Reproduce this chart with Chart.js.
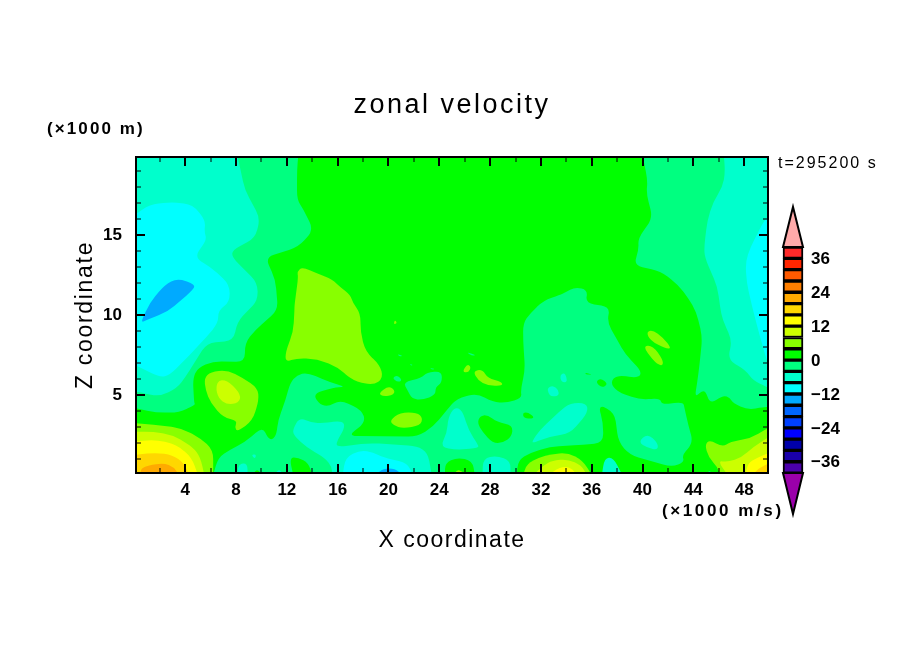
<!DOCTYPE html>
<html>
<head>
<meta charset="utf-8">
<style>
  body { margin: 0; background: #fff; }
  #main { position: absolute; left: 0; top: 0; }
  #bar { position: absolute; left: 770px; top: 200px; }
</style>
<script src="https://cdn.jsdelivr.net/npm/chart.js@4"></script>
</head>
<body>
<canvas id="main" width="904" height="654"></canvas>
<canvas id="bar" width="80" height="325"></canvas>
<script>
// contour level band -> colour, from lowest to highest (each band is 4 wide)
const levelEdges = [-40,-36,-32,-28,-24,-20,-16,-12,-8,-4,0,4,8,12,16,20,24,28,32,36,40];
const levelColors = ["#4b00aa","#1a00aa","#0000aa","#0000ff","#0040ff","#0066ff","#00aaff","#00ffff","#00ffcc","#00ff80",
                     "#00ff00","#88ff00","#ccff00","#ffff00","#ffd700","#ffaa00","#ff7f00","#ff5a00","#ff2600","#ff2a2a"];
const tipColors = ["#9a00aa","#ffaaaa"];

const xTicks = [2,4,6,8,10,12,14,16,18,20,22,24,26,28,30,32,34,36,38,40,42,44,46,48];
const xLabels = [4,8,12,16,20,24,28,32,36,40,44,48];
const yTicks = [1,2,3,4,5,6,7,8,9,10,11,12,13,14,15,16,17,18,19];
const yLabels = [5,10,15];
const barLabels = [36,24,12,0,-12,-24,-36];

// contour outlines in data units: x(km/1000), z(km/1000), x, z ...
const base = [0,0, 50,0, 50,20, 0,20];
const m4Left = [0,20, 12.9,20, 12.8,19.06, 12.8,17.2, 13.3,16.6, 14.1,15.3, 12.9,14.25, 10.3,13.6, 11.1,12.2, 11.3,10.3, 9.5,9.06, 8.7,8.25, 8.7,7.06, 6.2,7.1, 5,6.7, 4.6,6.06, 4.7,4.5, 4.8,4.4, 3.5,3.9, 1.7,3.9, 0,4.2];
const m8Left = [0,20, 8.1,20, 8.7,17.8, 9.9,16.06, 9.5,14.8, 7.7,14.06, 7.7,13.6, 9.7,12, 9.7,10.9, 8.95,10.3, 8.1,9.56, 7.8,8.4, 5.7,8.25, 4,6.1, 3.35,5.44, 2,4.9, 0.2,5.2, 0,5.2];
const m12Left = [0,16.25, 1.2,16.9, 3,17.06, 4.6,16.9, 5.6,15.9, 5.5,15.2, 5.7,14.7, 4.7,13.6, 6,13, 7.5,11.9, 7.5,10.8, 6.6,10.3, 6.6,9.5, 5.6,8.56, 4.1,7.3, 2.8,6.25, 2,6.1, 0,6.9];
const m16Left = [0.6,9.7, 1.2,10.75, 2.4,11.9, 3.4,12.3, 4.8,11.9, 4.6,11.56, 2.6,10.2, 1,9.7, 0.6,9.56];
const m4Right = [40,20, 40.4,18.4, 40.3,17.6, 40.8,16.06, 39.65,14.8, 39.7,14.06, 39.3,13.1, 41.4,12.75, 42.8,11.9, 44,10.6, 44.4,9.7, 44.7,8.6, 44.5,7, 44.3,5.75, 44.1,4.8, 44.9,5.44, 45.3,4.4, 46.35,5, 46.9,4.8, 47.1,4.5, 48.3,4.06, 49.5,4.25, 50,4.25, 50,20];
const m8Right = [46.4,20, 46.5,18.9, 46.3,18, 45.55,17.06, 45.1,15.9, 44.85,14.25, 44.9,13.6, 45.9,11.75, 46.1,10.5, 46.3,9.7, 47.05,8.4, 46.7,7.2, 48.1,6.56, 48.7,5.9, 49.8,5.5, 50,5.4, 50,20];
const m12Right = [50,16.25, 49.5,15.8, 49,15, 48.5,14.25, 48.1,13.3, 48.2,12, 48.6,10.6, 49.1,9.06, 49.8,7.1, 50,7.06];
const m4Main = [6.2,0, 6.6,1.1, 7.5,1.56, 8.7,2.06, 10.1,3, 10.5,2.3, 10.9,2.2, 11.2,2.6, 11.3,3.4, 11.9,4.7, 12.25,5.75, 12.8,6.25, 13.6,6.4, 15.4,5.8, 16.6,5.5, 15.95,5.5, 14.1,5.1, 14.45,4.5, 15.2,4.25, 16.2,4.7, 17.9,4.06, 18.2,3.3, 16.8,2.44, 22.25,2.4, 23.5,3, 24.6,4.06, 25.4,4.8, 27,5.1, 28.2,4.56, 29.3,4.5, 30.5,4.8, 30.4,5.3, 30.75,6.56, 30.6,8.4, 30.6,9.5, 31.15,10.1, 32.2,10.9, 33.5,11.25, 33.9,11.4, 34.7,11.75, 35.7,11.56, 35.5,10.75, 37.45,10.5, 37.2,9.56, 38.1,8.3, 38.6,7.6, 39.95,6.44, 39.65,6.06, 38,6.25, 37.45,5.8, 38,5.2, 39.8,4.7, 41.4,4.8, 41.5,4.4, 43.2,4.56, 43.3,4.2, 43.6,3.1, 44,2, 43.1,1.25, 43.3,0.8, 42.3,0.5, 39,1.25, 38.1,2.06, 37.8,3.9, 36.5,4.44, 36.9,3.25, 36.9,2, 35.3,1.9, 32.7,1.75, 31.15,1.4, 30.2,0.9, 30.1,0];
const m4Lake = [21.15,5.8, 22.6,6.06, 23,6.4, 24.2,6.5, 24.2,5.75, 23.7,5.5, 23.7,5, 22.7,4.7, 21.85,4.75, 21.5,5.3];
const m4SpeckA = [26.1,7.7, 26.9,7.5, 26.6,7.44];
const m4SpeckB = [20.7,7.56, 21.15,7.44, 20.85,7.4];
const m4SpeckC = [21.7,6.95, 21.95,6.85, 21.7,6.85];
const m4SpeckD = [23.3,6.7, 23.7,6.6, 23.3,6.6];
const m4SpeckE = [20.3,6.06, 20.7,6.25, 21.1,5.9, 20.7,5.8];
const greenA = [27,3.25, 27.2,3.7, 27.8,3.75, 28.55,3.3, 29.8,3.1, 29.7,2.4, 29,2, 28.2,2, 27.4,2.7];
const greenB = [24.45,0, 24.45,0.75, 25.4,1.1, 26.6,0.9, 26.8,0];
const greenC = [30.6,3.9, 31,3.9, 31.5,3.6, 31.15,3.5, 30.6,3.6];
const greenD = [12.2,1.1, 12.9,1.1, 13.7,0.75, 14,0, 12.5,0];
const greenE = [9.3,0, 9.65,0.4, 10.05,0];
const greenF = [36.3,5.8, 36.7,6.06, 37.3,5.7, 36.8,5.44];
const greenG = [35.5,6.4, 36.1,6.25, 35.5,6.3];
const m8Low = [12.5,2.9, 13,3.6, 14,3.25, 14.85,3.25, 16.35,3.4, 16.6,3, 15.9,2.06, 15.95,1.75, 18.55,2, 22.25,1.8, 23.1,1.4, 23.4,0, 15.55,0, 15.55,0.5, 15,1.06, 13.6,1.7, 12.5,2.5];
const m12Low = [16.4,0, 16.6,1.1, 17.8,1.56, 18.8,1.4, 19.6,1.1, 21.5,0.75, 21.9,0];
const m16Low = [18.95,0, 19.6,0.4, 20.5,0.4, 21.1,0];
const m8Peak = [24.05,1.75, 24.6,2.6, 24.7,3.6, 25.2,4.25, 25.8,4.06, 26.3,2.8, 27.05,1.9, 27.1,1.7, 25.4,1.56];
const m8Bottom = [27.4,0, 27.45,1.06, 28.55,1.2, 29.6,0.9, 29.6,0];
const m8Mid = [31.3,2.1, 31.9,2.8, 33.5,4, 34.3,4.5, 35.6,4.5, 35.7,3.9, 34.3,2.6, 32.7,2.4, 31.4,2];
const m8SmallA = [39.65,2.06, 40.4,2.6, 41.2,2, 41.2,1.56, 40.4,1.7];
const m8SmallB = [32.5,5.44, 32.95,5.6, 33.4,5.3, 33.4,4.94, 32.8,4.9, 32.6,5.1];
const m8SmallC = [33.5,6.25, 33.9,6.4, 34.1,5.8, 33.6,5.8];
const m8SmallD = [36.8,0, 37,1.06, 37.7,1.1, 38.4,0];
const m8SmallE = [44.9,0, 45.3,0.3, 45.5,0];
const m8SmallF = [8.1,0, 8.2,0.7, 8.9,0.75, 8.9,0];
const m8SmallG = [11,0, 11.4,0.4, 11.7,0];
const m8SmallH = [9.2,1.25, 9.6,1.3, 9.5,1];
const p4Lobe = [13.2,13, 14.4,12.6, 15.6,12.2, 16.2,11.75, 17,11.25, 17.2,10.75, 17.8,10.1, 17.8,8.9, 18.2,7.7, 19.3,6.9, 19.6,6.06, 18.8,5.6, 17.2,5.9, 15.95,6.75, 14.4,7.25, 12.8,7.3, 11.9,7.06, 11.9,7.7, 12.5,8.94, 12.6,10.3, 12.6,10.6, 12.9,12.4, 12.8,12.7];
const p4Blob = [5.5,6.06, 6,6.44, 7.3,6.56, 8.55,6.06, 9.7,5.44, 9.8,4.7, 9.3,3.4, 8.1,2.7, 7.9,3, 8.1,3.4, 7,3.6, 6,4.5, 5.6,5.3];
const p8Blob = [6.4,5.5, 6.7,6, 7.5,5.8, 8.4,5, 8.2,4.5, 7.3,4.4, 6.6,4.8];
const p4SmallA = [20.5,9.7, 20.7,9.5, 20.4,9.4];
const p4SmallB = [19.2,5.1, 20,5.56, 20.5,5.3, 20.4,5, 19.6,4.9];
const p4SmallC = [20.1,3.4, 20.9,3.9, 22.25,3.9, 22.7,3.56, 22.5,3.1, 21.15,2.9, 20.4,3.1];
const p4SmallD = [25.8,6.44, 26.2,6.94, 26.5,6.75, 26.3,6.4];
const p4SmallE = [26.65,6.5, 27.4,6.6, 27.8,6.06, 28.95,5.8, 28.95,5.56, 27.8,5.6, 27.05,5.9];
const p4SmallF = [40.3,8.94, 40.8,9.06, 41.6,8.6, 42.3,7.9, 41.8,7.9, 40.6,8.4];
const p4SmallG = [40,8.06, 40.8,8.1, 41.6,7.2, 41.6,6.8, 41,7];
const p4SmallH = [25.1,0, 25.5,0.4, 26.1,0];
const p4Corner = [0,3.25, 2.2,3.1, 3.8,2.9, 5.2,2.3, 6.2,1.56, 6.2,0, 0,0];
const p8Corner = [0,2.7, 1.5,2.7, 3,2.5, 4.6,1.75, 5.2,1.1, 5.5,0, 0,0];
const p12Corner = [0,2.1, 1.7,2.2, 3.3,1.9, 4.5,1.1, 5,0, 0,0];
const p16Corner = [0,1.25, 1.7,1.4, 3,1.25, 3.9,0.75, 4.3,0, 0,0];
const p20Corner = [0.5,0, 0.5,0.4, 1.1,0.6, 2.3,0.75, 3.1,0.5, 3.5,0];
const p4Hump = [30.6,0, 30.9,0.7, 31.9,1.1, 32.8,1.3, 34.1,1.4, 35.3,0.9, 36,0];
const p8Hump = [31.4,0, 32.2,0.6, 32.9,0.9, 34.1,1, 35.2,0.6, 35.6,0];
const p12Hump = [32.6,0, 33.5,0.5, 34.3,0.5, 34.85,0];
const p4Right = [44.9,1.9, 45.3,2.2, 46.3,1.75, 46.9,2.06, 48.5,2.3, 50,3, 50,0, 46.1,0, 45.9,0.5, 45.2,1.1];
const p8Right = [45.9,0.9, 46.7,0.8, 47.8,1.1, 48.7,1.75, 50,2.4, 50,0, 46.7,0];
const p12Right = [48.1,0, 48.3,0.75, 49,1.06, 50,1.4, 50,0];
const p16Right = [48.7,0, 49.1,0.4, 50,0.75, 50,0];

// painted in this order, later ones on top. second item is the lower edge of the band
const regions = [
  [base,0],
  [m4Left,-4],[m4Right,-4],[m4Main,-4],[m4Lake,-4],[m4SpeckA,-4],[m4SpeckB,-4],[m4SpeckC,-4],[m4SpeckD,-4],[m4SpeckE,-4],
  [greenA,0],[greenB,0],[greenC,0],[greenD,0],[greenE,0],[greenF,0],[greenG,0],
  [m8Left,-8],[m8Right,-8],[m8Low,-8],[m8Peak,-8],[m8Bottom,-8],[m8Mid,-8],
  [m8SmallA,-8],[m8SmallB,-8],[m8SmallC,-8],[m8SmallD,-8],[m8SmallE,-8],[m8SmallF,-8],[m8SmallG,-8],[m8SmallH,-8],
  [m12Left,-12],[m12Right,-12],[m12Low,-12],[m16Left,-16],[m16Low,-16],
  [p4Lobe,4],[p4Blob,4],[p8Blob,8],[p4SmallA,4],[p4SmallB,4],[p4SmallC,4],[p4SmallD,4],[p4SmallE,4],[p4SmallF,4],[p4SmallG,4],[p4SmallH,4],
  [p4Corner,4],[p8Corner,8],[p12Corner,12],[p16Corner,16],[p20Corner,20],
  [p4Hump,4],[p8Hump,8],[p12Hump,12],
  [p4Right,4],[p8Right,8],[p12Right,12],[p16Right,16]
];

function toPoints(flat) {
  var pts = [];
  for (var i = 0; i < flat.length; i += 2) pts.push({x: flat[i], y: flat[i + 1]});
  return pts;
}

function bandColor(low) {
  return levelColors[levelEdges.indexOf(low)];
}

// rounds the corners of an outline, but leaves points outside the plot sharp
function tracePath(ctx, pts, area) {
  var n = pts.length, cut = 9;
  function toward(p, q) {
    var d = Math.hypot(q.x - p.x, q.y - p.y) || 1, f = Math.min(0.5, cut / d);
    return {x: p.x + (q.x - p.x) * f, y: p.y + (q.y - p.y) * f};
  }
  pts.forEach(function(p, i) {
    var outside = !area || p.x < area.left || p.x > area.right || p.y < area.top || p.y > area.bottom;
    var a = toward(p, pts[(i + n - 1) % n]), b = toward(p, pts[(i + 1) % n]);
    if (outside) {
      if (i == 0) ctx.moveTo(p.x, p.y); else ctx.lineTo(p.x, p.y);
    } else {
      if (i == 0) ctx.moveTo(a.x, a.y); else ctx.lineTo(a.x, a.y);
      ctx.quadraticCurveTo(p.x, p.y, b.x, b.y);
    }
  });
  ctx.closePath();
}

// filled outlines: the points come out of the chart's own scales
const polygonFill = {
  id: 'polygonFill',
  beforeDatasetDraw(chart, args) {
    var ds = chart.data.datasets[args.index];
    if (!ds.polygon) return;
    var ctx = chart.ctx, a = chart.chartArea;
    ctx.save();
    ctx.beginPath();
    if (ds.clipArea) {
      ctx.rect(a.left, a.top, a.right - a.left, a.bottom - a.top);
      ctx.clip();
      ctx.beginPath();
    }
    tracePath(ctx, args.meta.data, ds.clipArea ? a : null);
    ctx.fillStyle = ds.backgroundColor;
    ctx.fill();
    if (ds.outline) {
      ctx.lineWidth = ds.outline;
      ctx.strokeStyle = '#000';
      ctx.stroke();
    }
    ctx.restore();
  }
};

// frame and inward ticks on all four sides
const frameTicks = {
  id: 'frameTicks',
  afterDatasetsDraw(chart) {
    var ctx = chart.ctx, a = chart.chartArea, sx = chart.scales.x, sy = chart.scales.y;
    ctx.save();
    ctx.strokeStyle = '#000';
    ctx.lineWidth = 2;
    ctx.strokeRect(a.left, a.top, a.right - a.left, a.bottom - a.top);
    xTicks.forEach(function(v) {
      var px = Math.round(sx.getPixelForValue(v)), major = xLabels.indexOf(v) >= 0;
      var len = major ? 9 : 5;
      ctx.lineWidth = major ? 2 : 1;
      ctx.beginPath();
      ctx.moveTo(px, a.top); ctx.lineTo(px, a.top + len);
      ctx.moveTo(px, a.bottom); ctx.lineTo(px, a.bottom - len);
      ctx.stroke();
    });
    yTicks.forEach(function(v) {
      var py = Math.round(sy.getPixelForValue(v)), major = yLabels.indexOf(v) >= 0;
      var len = major ? 9 : 5;
      ctx.lineWidth = major ? 2 : 1;
      ctx.beginPath();
      ctx.moveTo(a.left, py); ctx.lineTo(a.left + len, py);
      ctx.moveTo(a.right, py); ctx.lineTo(a.right - len, py);
      ctx.stroke();
    });
    ctx.restore();
  }
};

// titles need letter spacing, so they go through here
const textLabels = [
  {text: 'zonal velocity', x: 452, y: 113, font: '27px "Liberation Sans"', gap: 2.5, align: 'center'},
  {text: 'X coordinate', x: 452, y: 547, font: '23px "Liberation Sans"', gap: 1.5, align: 'center'},
  {text: 'Z coordinate', x: 92, y: 315, font: '23px "Liberation Sans"', gap: 1.7, align: 'center', rotate: true},
  {text: '(×1000 m)', x: 47, y: 134, font: 'bold 17px "Liberation Sans"', gap: 2.1, align: 'left'},
  {text: 't=295200 s', x: 778, y: 168, font: '16px "Liberation Sans"', gap: 2, align: 'left'},
  {text: '(×1000 m/s)', x: 662, y: 516, font: 'bold 17px "Liberation Sans"', gap: 2.6, align: 'left'}
];
const drawTexts = {
  id: 'drawTexts',
  afterDraw(chart) {
    var ctx = chart.ctx;
    textLabels.forEach(function(t) {
      ctx.save();
      ctx.font = t.font;
      ctx.letterSpacing = t.gap + 'px';
      ctx.fillStyle = '#000';
      ctx.textAlign = t.align;
      ctx.textBaseline = 'alphabetic';
      ctx.translate(t.x, t.y);
      if (t.rotate) ctx.rotate(-Math.PI / 2);
      ctx.fillText(t.text, 0, 0);
      ctx.restore();
    });
  }
};

var tickFont = {family: '"Liberation Sans"', size: 17, weight: 'bold'};

new Chart(document.getElementById('main'), {
  type: 'scatter',
  data: {
    datasets: regions.map(function(r, i) {
      return {
        data: toPoints(r[0]),
        polygon: true,
        clipArea: true,
        backgroundColor: bandColor(r[1]),
        showLine: false,
        pointRadius: 0,
        order: regions.length - i
      };
    })
  },
  options: {
    responsive: false,
    animation: false,
    events: [],
    layout: {autoPadding: false, padding: {top: 157, right: 136, left: 0, bottom: 0}},
    plugins: {legend: {display: false}, tooltip: {enabled: false}},
    scales: {
      x: {
        type: 'linear', min: 0.125, max: 49.875,
        grid: {display: false, drawTicks: false},
        border: {display: false},
        afterBuildTicks: function(s) { s.ticks = xTicks.map(function(v) { return {value: v}; }); },
        afterFit: function(s) { s.height = 181; },
        ticks: {
          autoSkip: false, maxRotation: 0, padding: 7, color: '#000', font: tickFont,
          callback: function(v) { return xLabels.indexOf(v) >= 0 ? String(v) : ''; }
        }
      },
      y: {
        type: 'linear', min: 0.125, max: 19.875,
        grid: {display: false, drawTicks: false},
        border: {display: false},
        afterBuildTicks: function(s) { s.ticks = yTicks.map(function(v) { return {value: v}; }); },
        afterFit: function(s) { s.width = 136; },
        ticks: {
          autoSkip: false, padding: 14, color: '#000', font: tickFont,
          callback: function(v) { return yLabels.indexOf(v) >= 0 ? String(v) : ''; }
        }
      }
    }
  },
  plugins: [polygonFill, frameTicks, drawTexts]
});

// colour bar, on its own small canvas
var cells = levelColors.map(function(c, i) {
  return {x: 0.5, y: [levelEdges[i], levelEdges[i + 1]]};
});
new Chart(document.getElementById('bar'), {
  type: 'scatter',
  data: {
    datasets: [
      {
        type: 'bar', data: cells, backgroundColor: levelColors, borderColor: '#000',
        borderWidth: 2, borderSkipped: false, barThickness: 20, grouped: false, clip: false
      },
      {data: toPoints([0,-40, 1,-40, 0.5,-54.5]), polygon: true, outline: 2, backgroundColor: tipColors[0], showLine: false, pointRadius: 0, clip: false},
      {data: toPoints([0,40, 1,40, 0.5,54.2]), polygon: true, outline: 2, backgroundColor: tipColors[1], showLine: false, pointRadius: 0, clip: false}
    ]
  },
  options: {
    responsive: false,
    animation: false,
    events: [],
    layout: {autoPadding: false, padding: {left: 13, right: 0, top: 7, bottom: 11}},
    plugins: {legend: {display: false}, tooltip: {enabled: false}},
    scales: {
      x: {type: 'linear', min: 0, max: 1, offset: false, display: false},
      y: {
        type: 'linear', position: 'right', min: -54.5, max: 54.2,
        grid: {display: false, drawTicks: false},
        border: {display: false},
        afterBuildTicks: function(s) { s.ticks = barLabels.map(function(v) { return {value: v}; }); },
        afterFit: function(s) { s.width = 47; s.paddingTop = 0; s.paddingBottom = 0; },
        ticks: {
          autoSkip: false, padding: 8, labelOffset: 1, color: '#000', font: tickFont,
          callback: function(v) { return String(v).replace('-', '−'); }
        }
      }
    }
  },
  plugins: [polygonFill]
});
</script>
</body>
</html>
